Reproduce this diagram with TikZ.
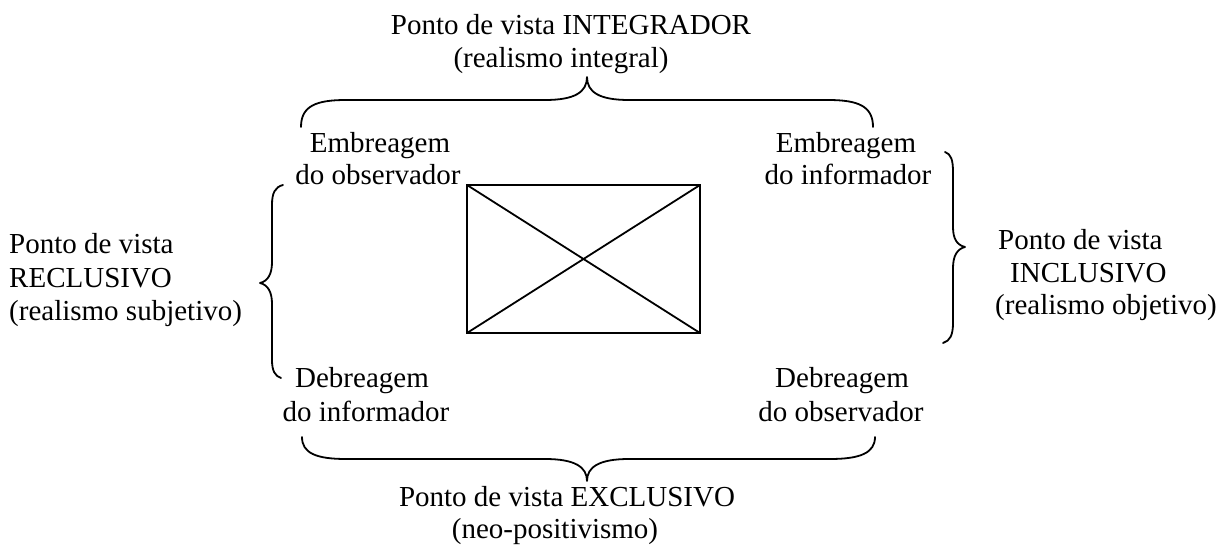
\documentclass[tikz,border=0pt]{standalone}
\usepackage{fontspec}
\setmainfont{Liberation Serif}
\begin{document}
\begin{tikzpicture}[x=1pt,y=-1pt,
  lbl/.style={inner sep=0pt,font=\fontsize{29}{33}\selectfont},
  bracepath/.style={line width=1.8pt,line cap=round,line join=round},
  boxline/.style={line width=2.6pt},
  diag/.style={line width=1.8pt}]
\useasboundingbox (0,0) rectangle (1230,545);
% central box
\coordinate (bnw) at (467,185);
\coordinate (bse) at (700,333);
\coordinate (bne) at (700,185);
\coordinate (bsw) at (467,333);
\draw[boxline] (bnw) rectangle (bse);
\draw[diag] (bnw) -- (bse);
\draw[diag] (bne) -- (bsw);
% top labels
\node[lbl,anchor=base] (t1) at (571,35) {Ponto de vista INTEGRADOR};
\node[lbl,anchor=base] (t2) at (561,68) {(realismo integral)};
% bottom labels
\node[lbl,anchor=base] (b1) at (567,506) {Ponto de vista EXCLUSIVO};
\node[lbl,anchor=base] (b2) at (555,538) {(neo-positivismo)};
% corner labels
\node[lbl,anchor=base] (e1a) at (380,153) {Embreagem};
\node[lbl,anchor=base] (e1b) at (378,185) {do observador};
\node[lbl,anchor=base] (e2a) at (846,153) {Embreagem};
\node[lbl,anchor=base] (e2b) at (848,185) {do informador};
\node[lbl,anchor=base] (d1a) at (362,387) {Debreagem};
\node[lbl,anchor=base] (d1b) at (366,421) {do informador};
\node[lbl,anchor=base] (d2a) at (842,387) {Debreagem};
\node[lbl,anchor=base] (d2b) at (841,421) {do observador};
% left labels
\node[lbl,anchor=base west] (l1) at (9,253) {Ponto de vista};
\node[lbl,anchor=base west] (l2) at (9,287) {RECLUSIVO};
\node[lbl,anchor=base west] (l3) at (9,320) {(realismo subjetivo)};
% right labels
\node[lbl,anchor=base west] (r1) at (998,250) {Ponto de vista};
\node[lbl,anchor=base west] (r2) at (1010,282) {INCLUSIVO};
\node[lbl,anchor=base west] (r3) at (995,314) {(realismo objetivo)};
% top brace
\coordinate (tbl) at (301,127);
\coordinate (tbr) at (873,127);
\coordinate (tbt) at (587,77);
\draw[bracepath] (tbl) .. controls (301,106) and (316,100) .. (346,100) -- (545,100)
  .. controls (575,100) and (587,92) .. (tbt)
  .. controls (587,92) and (599,100) .. (629,100) -- (828,100)
  .. controls (858,100) and (873,106) .. (tbr);
% bottom brace
\coordinate (bbl) at (302,437);
\coordinate (bbr) at (875,437);
\coordinate (bbt) at (587,481);
\draw[bracepath] (bbl) .. controls (302,453) and (316,459) .. (346,459) -- (545,459)
  .. controls (575,459) and (587,467) .. (bbt)
  .. controls (587,467) and (599,459) .. (629,459) -- (830,459)
  .. controls (860,459) and (875,453) .. (bbr);
% left brace
\coordinate (lbt) at (283,185);
\coordinate (lbb) at (281,378);
\coordinate (lbp) at (260,283);
\draw[bracepath] (lbt) .. controls (275,187) and (272,193) .. (272,205) -- (272,262)
  .. controls (272,274) and (268,281) .. (lbp)
  .. controls (268,285) and (272,292) .. (272,304) -- (272,360)
  .. controls (272,371) and (275,376) .. (lbb);
% right brace
\coordinate (rbt) at (945,152);
\coordinate (rbb) at (943,343);
\coordinate (rbp) at (965,247);
\draw[bracepath] (rbt) .. controls (951,154) and (953,160) .. (953,172) -- (953,227)
  .. controls (953,239) and (957,245) .. (rbp)
  .. controls (957,249) and (953,256) .. (953,268) -- (953,323)
  .. controls (953,335) and (950,341) .. (rbb);
\end{tikzpicture}
\end{document}
